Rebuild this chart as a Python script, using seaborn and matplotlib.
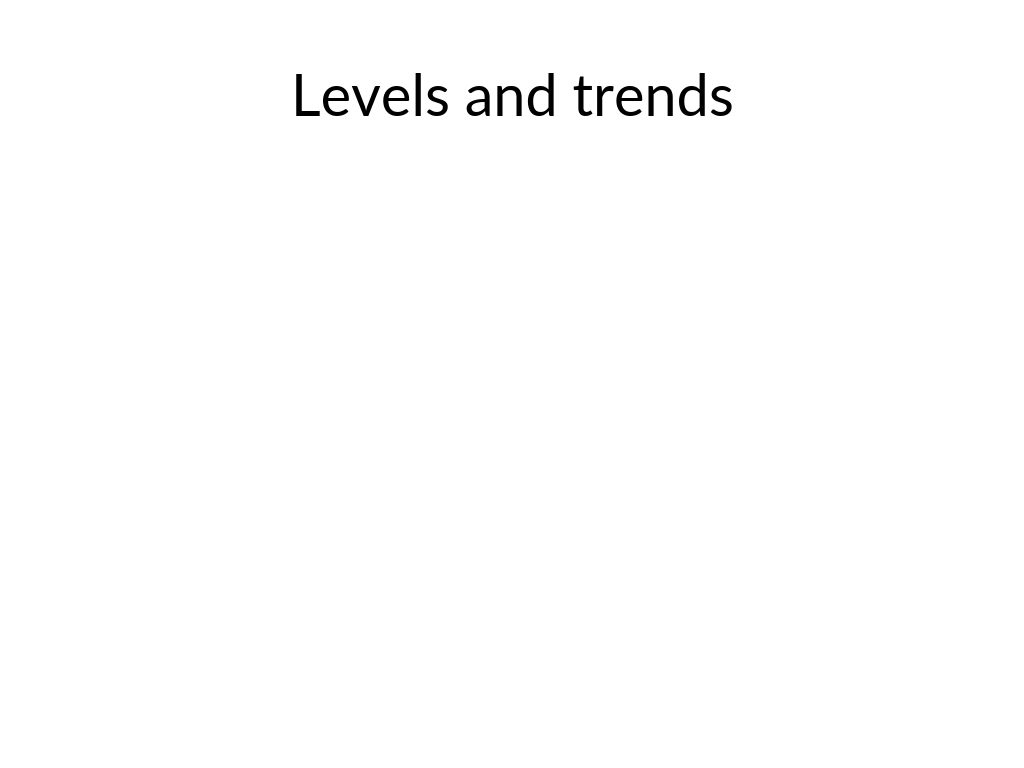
import matplotlib
matplotlib.use("Agg")
import matplotlib.pyplot as plt
import seaborn as sns

# Texto de la diapositiva (no hay datos en la figura)
title_text = "Levels and trends"

sns.set_theme(style="white")
plt.rcParams['font.family'] = ['Lato', 'DejaVu Sans']

fig = plt.figure(figsize=(10.24, 7.68), dpi=100)
ax = fig.add_axes([0, 0, 1, 1])
ax.set_axis_off()

fig.text(0.5, 1 - 100 / 768, title_text, ha="center", va="center",
         fontsize=41.5, color="black")

fig.savefig("out.png", dpi=100, facecolor="white")
